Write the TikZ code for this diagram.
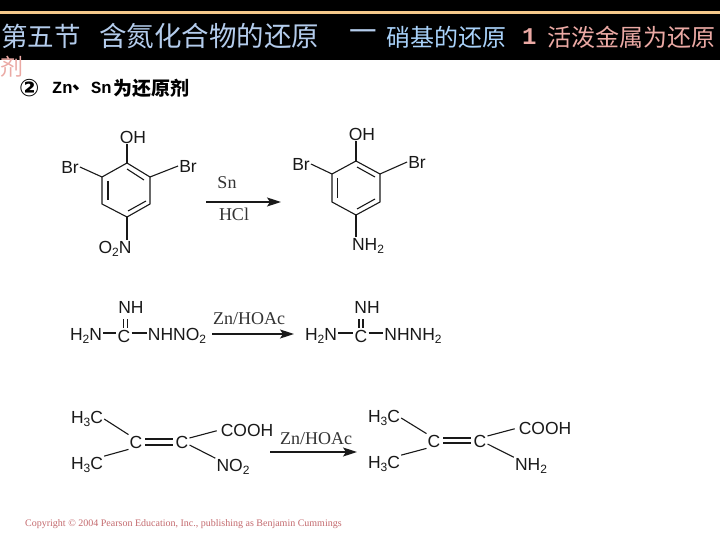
\documentclass[tikz,border=0pt]{standalone}
\usepackage{fontspec}
\setmainfont{Liberation Sans}
\newfontfamily\cjkf{Noto Sans CJK SC}
\newfontfamily\serf{Liberation Serif}
\newfontfamily\monof{Liberation Mono}
\newfontfamily\dejav{DejaVu Sans}
\usetikzlibrary{arrows.meta,calc}
\definecolor{hblue}{HTML}{B4CCEC}
\definecolor{hblue2}{HTML}{A9D2FA}
\definecolor{hpink}{HTML}{EBA9A4}
\definecolor{hline}{HTML}{F5C88A}
\definecolor{crt}{HTML}{C46A6E}
\newcommand{\chs}[1]{\raisebox{-3pt}{\fontsize{12}{12}\selectfont #1}}
\tikzset{
  atom/.style={font=\fontsize{17.5}{17.5}\selectfont, inner sep=1pt, text=black!90},
  bond/.style={line width=1.1pt, black!90},
  react/.style={line width=1.5pt, black!90, -{Stealth[length=14pt,width=9pt,inset=3pt]}},
  reagent/.style={font=\serf\fontsize{18}{18}\selectfont, inner sep=0pt, text=black!80},
  ttl/.style={font=\cjkf\fontsize{27.5}{27.5}\selectfont, inner sep=0pt, anchor=west, text=hblue},
  ttlb/.style={font=\cjkf\fontsize{24}{24}\selectfont, inner sep=0pt, anchor=west},
  subh/.style={font=\cjkf\bfseries\fontsize{19}{19}\selectfont, inner sep=0pt, anchor=west, text=black}
}
\begin{document}
\begin{tikzpicture}[x=1pt,y=-1pt]
\useasboundingbox (0,0) rectangle (720,540);
\fill[white] (0,0) rectangle (720,540);
% header
\fill[black] (0,0) rectangle (720,60);
\fill[hline] (0,11.5) rectangle (720,14);
\node[ttl,font=\cjkf\fontsize{26.5}{26.5}\selectfont] (t1) at (1,36) {第五节};
\node[ttl] (t2) at (99,36) {含氮化合物的还原};
\node[ttl] (t3) at (349,36) {一};
\node[ttlb,text=hblue2] (t4) at (386,37) {硝基的还原};
\node[ttlb,text=hpink,font=\monof\bfseries\fontsize{24}{24}\selectfont] (t5) at (522,37) {1};
\node[ttlb,text=hpink] (t6) at (547,37) {活泼金属为还原};
\node[ttl,text=hpink,font=\cjkf\fontsize{23}{23}\selectfont] (t7) at (0,67) {剂};
\node[subh,font=\dejav\bfseries\fontsize{24}{24}\selectfont] (s1) at (19,88) {②};
\node[subh,font=\monof\bfseries\fontsize{17}{17}\selectfont] (s2) at (52,88) {Zn};
\node[subh] (s3) at (72,88) {、};
\node[subh,font=\monof\bfseries\fontsize{17}{17}\selectfont] (s4) at (91,88) {Sn};
\node[subh] (s5) at (113,88) {为还原剂};
% molecule 1
\coordinate (a1) at (127,163); \coordinate (a2) at (150,177); \coordinate (a3) at (150,204);
\coordinate (a4) at (127,217); \coordinate (a5) at (102,204); \coordinate (a6) at (102,177);
\node[atom] (aoh) at (133,137) {OH};
\node[atom] (abl) at (70,167) {Br};
\node[atom] (abr) at (188,166) {Br};
\node[atom] (ano) at (115,249) {O\chs{2}N};
\draw[bond] (a1)--(a2)--(a3)--(a4)--(a5)--(a6)--cycle;
\draw[bond] (a1)--(a1|-aoh.south);
\draw[bond] (a6)--(abl.east);
\draw[bond] (a2)--(abr.west);
\draw[bond] (a4)--(a4|-ano.north);
\draw[bond] ($(a6)+(6,4)$)--($(a5)+(6,-4)$);
\draw[bond] ($(a1)+(0,6)$)--($(a2)+(-6,3)$);
\draw[bond] ($(a4)+(1,-6)$)--($(a3)+(-4,-3)$);
% arrow 1
\node[reagent] (rs) at (227,183) {Sn};
\node[reagent] (rh) at (234,214) {HCl};
\coordinate (r1a) at (206,202); \coordinate (r1b) at (281,202);
\draw[react] (r1a)--(r1b);
% molecule 2
\coordinate (b1) at (356,161); \coordinate (b2) at (380,174); \coordinate (b3) at (380,202);
\coordinate (b4) at (356,215); \coordinate (b5) at (332,202); \coordinate (b6) at (332,174);
\node[atom] (boh) at (362,134) {OH};
\node[atom] (bbl) at (301,164) {Br};
\node[atom] (bbr) at (417,162) {Br};
\node[atom] (bnh) at (368,246) {NH\chs{2}};
\draw[bond] (b1)--(b2)--(b3)--(b4)--(b5)--(b6)--cycle;
\draw[bond] (b1)--(b1|-boh.south);
\draw[bond] (b6)--(bbl.east);
\draw[bond] (b2)--(bbr.west);
\draw[bond] (b4)--(b4|-bnh.north);
\draw[bond] ($(b6)+(5.5,4)$)--($(b5)+(5.5,-4)$);
\draw[bond] ($(b1)+(1,6)$)--($(b2)+(-5,3)$);
\draw[bond] ($(b4)+(1,-6)$)--($(b3)+(-5,-3)$);
% reaction 2
\node[atom] (c1) at (86,336) {H\chs{2}N};
\node[atom] (c2) at (124,336) {C};
\node[atom] (c3) at (177,336) {NHNO\chs{2}};
\node[atom] (c4) at (131,307) {NH};
\draw[bond] ([yshift=3pt]c1.east)--([yshift=3pt]c2.west);
\draw[bond] ([yshift=3pt]c2.east)--([yshift=3pt]c3.west);
\draw[bond] ($(c2.north)+(-0.7,-1)$)--++(0,-9);
\draw[bond] ($(c2.north)+(3.3,-1)$)--++(0,-9);
\node[reagent] (cz) at (249,319) {Zn/HOAc};
\coordinate (r2a) at (212,334); \coordinate (r2b) at (294,334);
\draw[react] (r2a)--(r2b);
\node[atom] (d1) at (321,336) {H\chs{2}N};
\node[atom] (d2) at (361,336) {C};
\node[atom] (d3) at (413,336) {NHNH\chs{2}};
\node[atom] (d4) at (367,307) {NH};
\draw[bond] ([yshift=3pt]d1.east)--([yshift=3pt]d2.west);
\draw[bond] ([yshift=3pt]d2.east)--([yshift=3pt]d3.west);
\draw[bond] ($(d2.north)+(-2,-1)$)--++(0,-9);
\draw[bond] ($(d2.north)+(2,-1)$)--++(0,-9);
% reaction 3
\node[atom] (e1) at (87,419) {H\chs{3}C};
\node[atom] (e2) at (87,465) {H\chs{3}C};
\node[atom] (e3) at (136,442) {C};
\node[atom] (e4) at (182,442) {C};
\node[atom] (e5) at (247,430) {COOH};
\node[atom] (e6) at (233,467) {NO\chs{2}};
\draw[bond] (e1.east)--(e3.north west);
\draw[bond] (e2.north east)--(e3.south west);
\draw[bond,shorten <=1.5pt,shorten >=1.5pt] ([yshift=3pt]e3.east)--([yshift=3pt]e4.west);
\draw[bond,shorten <=1.5pt,shorten >=1.5pt] ([yshift=-3pt]e3.east)--([yshift=-3pt]e4.west);
\draw[bond,shorten >=3pt] ([yshift=4pt]e4.east)--(e5.west);
\draw[bond] ([yshift=-3pt]e4.east)--(e6.north west);
\node[reagent] (ez) at (316,439) {Zn/HOAc};
\coordinate (r3a) at (270,452); \coordinate (r3b) at (357,452);
\draw[react] (r3a)--(r3b);
\node[atom] (f1) at (384,418) {H\chs{3}C};
\node[atom] (f2) at (384,464) {H\chs{3}C};
\node[atom] (f3) at (434,441) {C};
\node[atom] (f4) at (480,441) {C};
\node[atom] (f5) at (545,428) {COOH};
\node[atom] (f6) at (531,466) {NH\chs{2}};
\draw[bond] (f1.east)--(f3.north west);
\draw[bond] (f2.north east)--(f3.south west);
\draw[bond,shorten <=1.5pt,shorten >=1.5pt] ([yshift=3pt]f3.east)--([yshift=3pt]f4.west);
\draw[bond,shorten <=1.5pt,shorten >=1.5pt] ([yshift=-2pt]f3.east)--([yshift=-2pt]f4.west);
\draw[bond,shorten >=3pt] ([yshift=5pt]f4.east)--(f5.west);
\draw[bond] ([yshift=-3pt]f4.east)--(f6.north west);
% footer
\node[font=\serf\fontsize{10}{10}\selectfont, text=crt, inner sep=0pt, anchor=west] (cp) at (25,524) {Copyright © 2004 Pearson Education, Inc., publishing as Benjamin Cummings};
\end{tikzpicture}
\end{document}
